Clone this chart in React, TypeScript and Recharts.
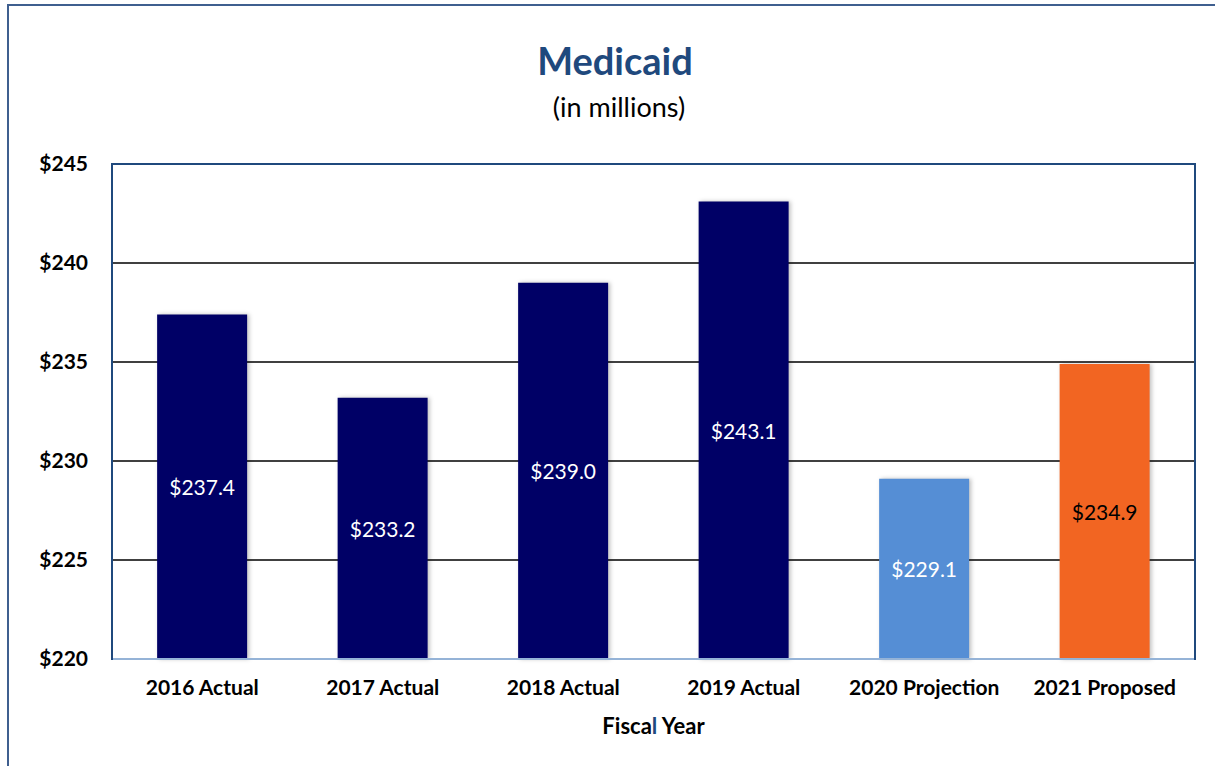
import React from 'react'
import { BarChart, Bar, XAxis, YAxis, CartesianGrid, LabelList, Cell, Label } from 'recharts'

const years = ['2016 Actual', '2017 Actual', '2018 Actual', '2019 Actual', '2020 Projection', '2021 Proposed']
const spending = [237.4, 233.2, 239.0, 243.1, 229.1, 234.9]
const yTicks = [220, 225, 230, 235, 240, 245]

const barColors = ['#000066', '#000066', '#000066', '#000066', '#558ED5', '#F26522']
const labelColors = ['#ffffff', '#ffffff', '#ffffff', '#ffffff', '#ffffff', '#000000']

const data = years.map((year, i) => ({ year, value: spending[i] }))

const FONT = 'Lato, "Open Sans", sans-serif'
const BORDER = '#1F497D'

// plot box
const PLOT = { left: 112, top: 164, right: 1195, bottom: 659 }

const FiscalYear = (props: any) => {
  const { viewBox } = props
  const cx = viewBox.x + viewBox.width / 2
  return (
    <text x={cx} y={viewBox.y + 75} textAnchor="middle" fontFamily={FONT} fontWeight={700} fontSize={22} fill="#000">
      Fisca<tspan fill={BORDER}>l</tspan> Year
    </text>
  )
}

const ValueLabel = (props: any) => {
  const { x, y, width, height, index, value } = props
  return (
    <text
      x={x + width / 2}
      y={y + height / 2}
      textAnchor="middle"
      dominantBaseline="central"
      fontFamily={FONT}
      fontSize={21}
      fill={labelColors[index]}
    >
      ${Number(value).toFixed(1)}
    </text>
  )
}

export default function App() {
  return (
    <div style={{ position: 'absolute', left: 0, top: 0, width: 1215, height: 766, background: '#fff', overflow: 'hidden' }}>
      <div style={{ position: 'absolute', left: 7, top: 4, width: 1300, height: 900, borderLeft: `2px solid #3F5F8F`, borderTop: `2px solid #3F5F8F` }} />
      <div style={{ position: 'absolute', left: 0, width: 1230, top: 37, textAlign: 'center', fontFamily: FONT, fontWeight: 700, fontSize: 38, color: BORDER }}>
        Medicaid
      </div>
      <div style={{ position: 'absolute', left: 0, width: 1238, top: 90, textAlign: 'center', fontFamily: FONT, fontSize: 27, color: '#000' }}>
        (in millions)
      </div>
      <div style={{ position: 'absolute', left: 0, top: 0 }}>
        <BarChart
          width={1215}
          height={766}
          data={data}
          margin={{ top: PLOT.top, right: 1215 - PLOT.right, bottom: 766 - PLOT.bottom - 30, left: PLOT.left - 100 }}
          barCategoryGap="25%"
        >
          <CartesianGrid vertical={false} stroke="#000" strokeWidth={1.5} />
          <XAxis
            dataKey="year"
            height={30}
            axisLine={{ stroke: '#95B3D7', strokeWidth: 2 }}
            tickLine={false}
            tickSize={0}
            tickMargin={21}
            interval={0}
            tick={{ fill: '#000', fontFamily: FONT, fontWeight: 700, fontSize: 21 }}
          >
            <Label content={<FiscalYear />} />
          </XAxis>
          <YAxis
            domain={[220, 245]}
            ticks={yTicks}
            width={100}
            axisLine={false}
            tickLine={false}
            tickSize={0}
            tickMargin={24}
            tickFormatter={(v: number) => `$${v}`}
            tick={{ fill: '#000', fontFamily: FONT, fontWeight: 700, fontSize: 21 }}
          />
          <Bar dataKey="value" isAnimationActive={false}>
            {data.map((d, i) => (
              <Cell key={d.year} fill={barColors[i]} style={{ filter: 'drop-shadow(2px 0px 2px rgba(0,0,0,0.25))' }} />
            ))}
            <LabelList dataKey="value" content={<ValueLabel />} />
          </Bar>
        </BarChart>
      </div>
      <div
        style={{
          position: 'absolute',
          left: PLOT.left - 1,
          top: PLOT.top - 1,
          width: PLOT.right - PLOT.left - 2,
          height: PLOT.bottom - PLOT.top,
          borderTop: `2.5px solid ${BORDER}`,
          borderLeft: `2.5px solid ${BORDER}`,
          borderRight: `2.5px solid ${BORDER}`,
          pointerEvents: 'none',
        }}
      />
    </div>
  )
}
